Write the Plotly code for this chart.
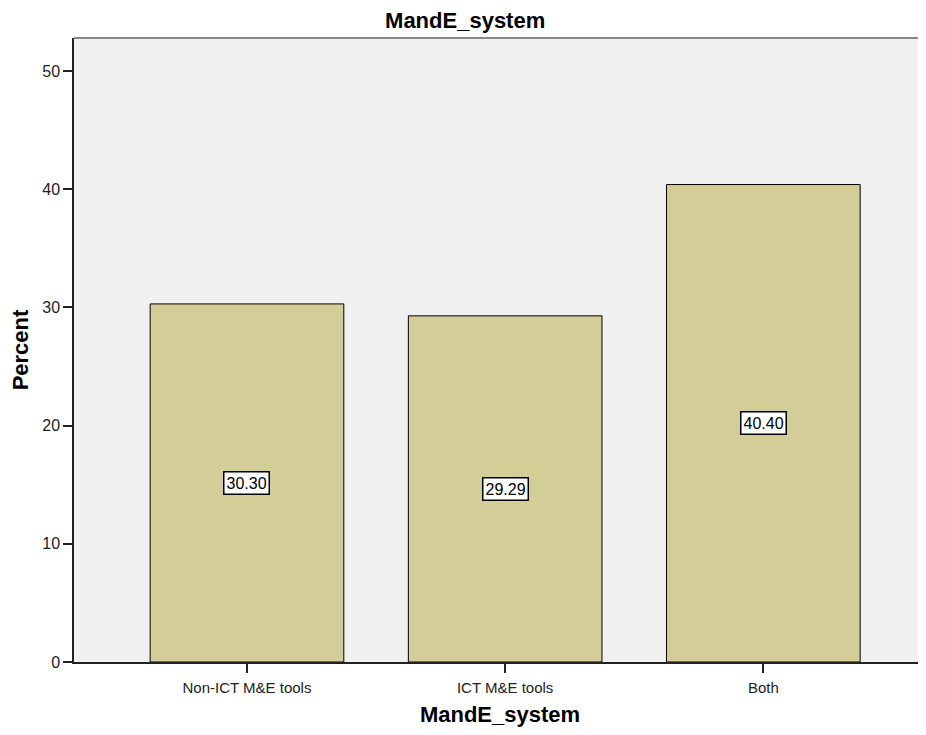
import plotly.graph_objects as go

categories = ["Non-ICT M&E tools", "ICT M&E tools", "Both"]
percent = [30.30, 29.29, 40.40]
y_ticks = [0, 10, 20, 30, 40, 50]

FONT = "Liberation Sans, Arial, sans-serif"
H = 719

fig = go.Figure()
fig.add_trace(go.Bar(
    x=list(range(len(categories))),
    y=percent,
    width=0.75,
    marker=dict(color="#D3CE98", line=dict(color="#000000", width=1)),
    hoverinfo="skip",
))

for i, v in enumerate(percent):
    fig.add_annotation(
        x=i, y=v / 2, text=f"{v:.2f}", showarrow=False,
        font=dict(family=FONT, size=16, color="#000000"),
        bgcolor="#FFFFFF", bordercolor="#000000", borderwidth=1.5, borderpad=2,
    )

fig.add_shape(type="line", xref="paper", yref="paper", x0=0, x1=1, y0=1, y1=1,
              line=dict(color="#888888", width=2))

fig.update_layout(
    width=918, height=H,
    margin=dict(l=66, r=0, t=30, b=65),
    paper_bgcolor="#FFFFFF",
    plot_bgcolor="#F0F0F0",
    showlegend=False,
    title=dict(text="<b>MandE_system</b>", x=0.498, xanchor="center",
               y=1 - 12 / H, yanchor="middle",
               font=dict(family=FONT, size=22, color="#000000")),
    xaxis=dict(
        range=[-0.67, 2.63],
        tickmode="array",
        tickvals=list(range(len(categories))),
        ticktext=categories,
        ticks="outside", ticklen=9, tickcolor="#222222", tickwidth=1.5,
        ticklabelstandoff=2,
        showline=True, linecolor="#222222", linewidth=1.5,
        showgrid=False, zeroline=False,
        tickfont=dict(family=FONT, size=15, color="#222222"),
        title=dict(text="<b>MandE_system</b>", standoff=16,
                   font=dict(family=FONT, size=22, color="#000000")),
    ),
    yaxis=dict(
        range=[0, 52.8],
        tickmode="array",
        tickvals=y_ticks,
        ticks="outside", ticklen=9, tickcolor="#222222", tickwidth=1.5,
        showline=True, linecolor="#222222", linewidth=1.5,
        showgrid=False, zeroline=False,
        tickfont=dict(family=FONT, size=16, color="#222222"),
        title=dict(text="<b>Percent</b>", standoff=12,
                   font=dict(family=FONT, size=22, color="#000000")),
    ),
)

fig.write_html("out.html")
